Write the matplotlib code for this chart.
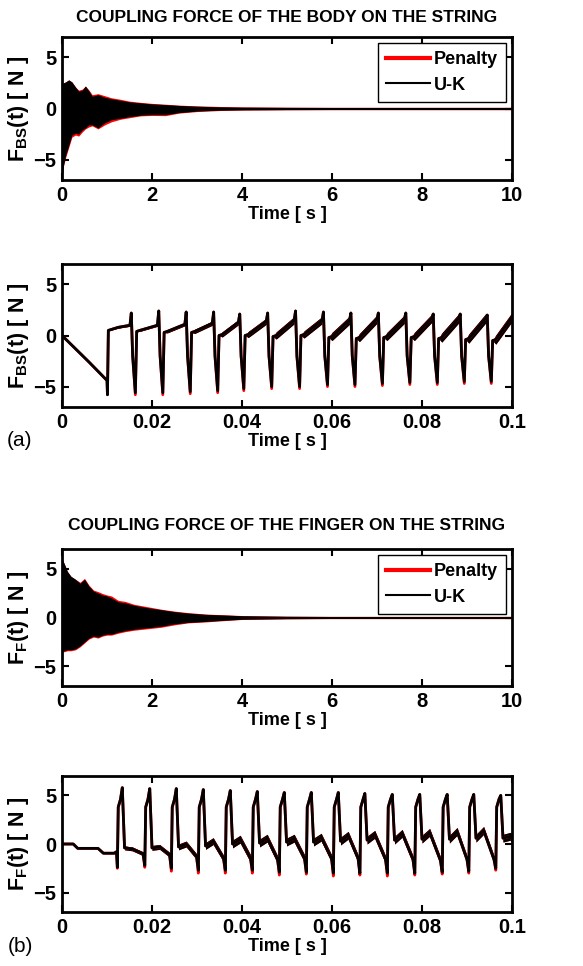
import numpy as np
import matplotlib.pyplot as plt
from matplotlib.lines import Line2D

plt.rcParams['font.family'] = ['Liberation Sans', 'DejaVu Sans']
plt.rcParams['font.weight'] = 'bold'
plt.rcParams['mathtext.fontset'] = 'custom'
plt.rcParams['mathtext.rm'] = 'Liberation Sans:bold'
plt.rcParams['mathtext.bf'] = 'Liberation Sans:bold'
plt.rcParams['mathtext.it'] = 'Liberation Sans:bold'

# ---- body on string, 0..10 s (envelope of the fast oscillation) ----
body_t = [0, 0.03, 0.08, 0.15, 0.22, 0.3, 0.37, 0.45, 0.52, 0.6, 0.67, 0.8, 0.95, 1.1,
          1.3, 1.5, 1.75, 2.0, 2.3, 2.6, 3.0, 3.5, 4.0, 5, 6, 7, 8, 10]
body_uk_up = [2.4, 2.5, 2.6, 2.8, 2.6, 2.1, 1.7, 1.8, 2.2, 1.7, 1.2, 1.35, 1.1, 0.95,
              0.8, 0.65, 0.55, 0.45, 0.38, 0.3, 0.22, 0.16, 0.13, 0.11, 0.1, 0.1, 0.1, 0.1]
body_uk_lo = [-6.9, -5.6, -4.6, -3.6, -2.6, -2.4, -2.5, -2.1, -1.9, -1.6, -1.6, -1.9, -1.4, -1.1,
              -0.95, -0.8, -0.65, -0.6, -0.6, -0.4, -0.25, -0.16, -0.13, -0.11, -0.1, -0.1, -0.1, -0.1]
body_pen_up = [2.4, 2.5, 2.6, 2.8, 2.6, 2.1, 1.8, 1.9, 2.2, 1.8, 1.35, 1.45, 1.25, 1.05,
               0.9, 0.72, 0.6, 0.5, 0.42, 0.33, 0.26, 0.2, 0.16, 0.13, 0.12, 0.12, 0.12, 0.12]
body_pen_lo = [-6.9, -5.7, -4.8, -3.8, -2.8, -2.6, -2.7, -2.3, -2.0, -1.8, -1.7, -2.0, -1.6, -1.3,
               -1.05, -0.9, -0.72, -0.68, -0.7, -0.45, -0.3, -0.2, -0.16, -0.13, -0.12, -0.12, -0.12, -0.12]

# ---- body on string, 0..0.1 s (per period read-offs) ----
body_tmin = [0.0163, 0.0224, 0.0285, 0.0346, 0.0404, 0.0466, 0.0528, 0.0590, 0.0651,
             0.0712, 0.0773, 0.0834, 0.0894, 0.0954]
body_min_uk = [-5.6, -5.6, -5.5, -5.4, -5.2, -5.0, -5.0, -4.8, -4.8, -4.7, -4.6, -4.6, -4.5, -4.5]
body_min_pen = [-5.8, -5.8, -5.7, -5.6, -5.4, -5.2, -5.2, -5.0, -5.0, -4.9, -4.8, -4.8, -4.7, -4.7]
body_peak = [2.2, 2.4, 2.3, 2.3, 2.1, 2.2, 2.4, 2.3, 2.2, 2.2, 2.2, 2.1, 2.1, 2.0]
body_base = [0.4, 0.3, 0.3, 0.0, 0.0, -0.1, 0.0, -0.2, -0.3, -0.2, -0.2, -0.3, -0.4, -0.5]
body_rise = [1.0, 1.1, 1.2, 1.3, 1.4, 1.5, 1.5, 1.5, 1.6, 1.6, 1.7, 1.7, 1.7, 1.8]
body_fuzz = [0.1, 0.15, 0.2, 0.25, 0.3, 0.35, 0.35, 0.4, 0.4, 0.4, 0.4, 0.45, 0.45, 0.45]

# ---- finger on string, 0..10 s ----
fing_t = [0, 0.05, 0.12, 0.2, 0.3, 0.4, 0.5, 0.6, 0.7, 0.8, 0.9, 1.0, 1.1, 1.25, 1.4,
          1.6, 1.9, 2.2, 2.5, 2.8, 3.2, 3.6, 4.0, 5, 6, 8, 10]
fing_uk_up = [6.0, 5.5, 4.7, 4.2, 3.9, 3.5, 3.9, 3.2, 2.7, 2.5, 2.3, 2.2, 2.0, 1.6, 1.5,
              1.25, 1.0, 0.8, 0.6, 0.45, 0.32, 0.25, 0.18, 0.12, 0.1, 0.1, 0.1]
fing_uk_lo = [-3.4, -3.4, -3.3, -3.3, -3.2, -2.9, -2.5, -2.1, -1.9, -2.0, -1.8, -1.7, -1.7, -1.5, -1.35,
              -1.2, -1.05, -0.9, -0.65, -0.5, -0.4, -0.28, -0.18, -0.12, -0.1, -0.1, -0.1]
fing_pen_up = [6.0, 5.5, 4.7, 4.2, 3.9, 3.6, 4.0, 3.3, 2.8, 2.65, 2.45, 2.3, 2.2, 1.75, 1.65,
               1.35, 1.1, 0.85, 0.65, 0.5, 0.35, 0.28, 0.2, 0.14, 0.12, 0.12, 0.12]
fing_pen_lo = [-3.5, -3.5, -3.4, -3.4, -3.3, -3.0, -2.6, -2.2, -2.0, -2.1, -1.9, -1.8, -1.8, -1.6, -1.45,
               -1.3, -1.15, -1.0, -0.75, -0.55, -0.45, -0.32, -0.2, -0.14, -0.12, -0.12, -0.12]

# ---- finger on string, 0..0.1 s ----
fing_tpk = [0.0134, 0.0195, 0.0254, 0.0314, 0.0374, 0.0434, 0.0494, 0.0554, 0.0614,
            0.0673, 0.0734, 0.0795, 0.0856, 0.0915, 0.0975]
fing_peak = [5.8, 5.7, 5.7, 5.6, 5.5, 5.4, 5.3, 5.3, 5.3, 5.2, 5.1, 5.1, 5.1, 5.1, 5.0]
fing_dip_uk = [-2.4, -2.2, -2.5, -2.7, -2.7, -2.7, -2.9, -2.9, -3.0, -3.0, -3.0, -3.0, -2.9, -2.8, -2.5]
fing_dip_pen = [-2.5, -2.4, -2.8, -3.0, -3.0, -3.0, -3.2, -3.1, -3.3, -3.2, -3.3, -3.2, -3.1, -3.0, -2.7]
fing_after = [-0.4, -0.4, -0.3, -0.2, 0.0, 0.1, 0.2, 0.2, 0.3, 0.4, 0.4, 0.5, 0.5, 0.6, 0.6]
fing_bump = [-0.5, -0.3, 0.0, 0.3, 0.5, 0.6, 0.6, 0.7, 0.9, 1.0, 1.1, 1.2, 1.3, 1.4, 0.8]
fing_predip = [-1.0, -1.1, -1.3, -1.5, -1.5, -1.6, -1.5, -1.5, -1.5, -1.6, -1.6, -1.7, -1.6, -1.6]
fing_fuzz = [0.2, 0.25, 0.3, 0.35, 0.4, 0.4, 0.4, 0.4, 0.4, 0.4, 0.4, 0.4, 0.4, 0.4, 0.4]


def body_trace(vmin):
    t = [0.0, 0.006, 0.0100, 0.0101, 0.0103, 0.0125]
    v = [0.0, -2.6, -4.4, -5.8, 0.5, 0.8]
    f = [0.0, 0.0, 0.0, 0.0, 0.05, 0.08]
    prev, pf = 1.0, 0.1
    for k in range(len(body_tmin)):
        tm = body_tmin[k]
        t += [tm - 0.0012, tm - 0.0009, tm - 0.0006, tm, tm + 0.0003, tm + 0.0010]
        v += [prev, body_peak[k], -2.0, vmin[k], body_base[k], body_base[k] + 0.1]
        f += [pf, 0.0, 0.0, 0.0, 0.0, body_fuzz[k]]
        prev, pf = body_rise[k], body_fuzz[k]
    t.append(0.1)
    v.append(body_rise[-1])
    f.append(body_fuzz[-1])
    return np.array(t), np.array(v), np.array(f)


def finger_trace(dip):
    t = [0.0, 0.0025, 0.0035, 0.0080, 0.0092, 0.0116, 0.0121]
    v = [0.0, 0.0, -0.45, -0.45, -0.95, -0.95, -0.8]
    f = [0.0, 0.0, 0.0, 0.0, 0.0, 0.0, 0.05]
    for k in range(len(fing_tpk)):
        tp = fing_tpk[k]
        fz = fing_fuzz[k]
        t += [tp - 0.0011, tp - 0.0009, tp - 0.0004, tp, tp + 0.0005, tp + 0.0022]
        v += [dip[k], 3.8, 4.6, fing_peak[k], fing_after[k], fing_bump[k]]
        f += [0.0, 0.0, 0.2, 0.0, fz, fz]
        if k < len(fing_predip):
            t.append(fing_tpk[k + 1] - 0.0015)
            v.append(fing_predip[k])
            f.append(fz)
    t.append(0.1)
    v.append(0.4)
    f.append(fing_fuzz[-1])
    return np.array(t), np.array(v), np.array(f)


def draw_trace(ax, tp, vp, fp, tu, vu, fu):
    ax.fill_between(tp, vp - fp, vp + fp, color='red', lw=0)
    ax.plot(tp, vp, color='red', lw=2.0)
    ax.fill_between(tu, vu - fu, vu + fu, color='black', lw=0)
    ax.plot(tu, vu, color='black', lw=2.0)


fig = plt.figure(figsize=(5.83, 9.66), dpi=100)
W, H = 583.0, 966.0
boxes = [(37, 180), (264, 407), (549, 686), (776, 912)]
axes = []
for top, bot in boxes:
    ax = fig.add_axes([62 / W, 1 - bot / H, 450 / W, (bot - top) / H])
    axes.append(ax)


def style(ax, xmax, xticks, xticklabels, ylab):
    ax.set_xlim(0, xmax)
    ax.set_ylim(-7, 7)
    ax.set_xticks(xticks)
    ax.set_xticklabels(xticklabels)
    ax.set_yticks([-5, 0, 5])
    ax.tick_params(direction='in', top=True, right=True, length=5, width=1.5,
                   labelsize=14.5, pad=4)
    for s in ax.spines.values():
        s.set_linewidth(2)
    ax.set_xlabel('Time [ s ]', fontsize=13, fontweight='bold', labelpad=1)
    ax.set_ylabel(ylab, fontsize=15.5, labelpad=2)


def legend(ax):
    h = [Line2D([], [], color='red', lw=3), Line2D([], [], color='black', lw=1.5)]
    lg = ax.legend(h, ['Penalty', 'U-K'], loc='upper right', fancybox=False,
                   framealpha=1, edgecolor='black', fontsize=13, handlelength=2.4,
                   borderaxespad=0.35, handletextpad=0.2, labelspacing=0.45,
                   borderpad=0.45)
    lg.get_frame().set_linewidth(1)


long_ticks = [0, 2, 4, 6, 8, 10]
long_labels = ['0', '2', '4', '6', '8', '10']
short_ticks = [0, 0.02, 0.04, 0.06, 0.08, 0.1]
short_labels = ['0', '0.02', '0.04', '0.06', '0.08', '0.1']

ax = axes[0]
ax.fill_between(body_t, body_pen_lo, body_pen_up, color='red', lw=0)
ax.fill_between(body_t, body_uk_lo, body_uk_up, color='black', lw=0)
style(ax, 10, long_ticks, long_labels, r'$\mathrm{F_{BS}(t)\ [\ N\ ]}$')
legend(ax)
ax.set_title('COUPLING FORCE OF THE BODY ON THE STRING', fontsize=12.5,
             fontweight='bold', pad=11)

ax = axes[1]
tp, vp, fp = body_trace(body_min_pen)
tu, vu, fu = body_trace(body_min_uk)
draw_trace(ax, tp, vp, fp, tu, vu, fu)
style(ax, 0.1, short_ticks, short_labels, r'$\mathrm{F_{BS}(t)\ [\ N\ ]}$')

ax = axes[2]
ax.fill_between(fing_t, fing_pen_lo, fing_pen_up, color='red', lw=0)
ax.fill_between(fing_t, fing_uk_lo, fing_uk_up, color='black', lw=0)
style(ax, 10, long_ticks, long_labels, r'$\mathrm{F_{F}(t)\ [\ N\ ]}$')
legend(ax)
ax.set_title('COUPLING FORCE OF THE FINGER ON THE STRING', fontsize=12.5,
             fontweight='bold', pad=14)

ax = axes[3]
tp, vp, fp = finger_trace(fing_dip_pen)
tu, vu, fu = finger_trace(fing_dip_uk)
draw_trace(ax, tp, vp, fp, tu, vu, fu)
style(ax, 0.1, short_ticks, short_labels, r'$\mathrm{F_{F}(t)\ [\ N\ ]}$')

fig.text(20 / W, 1 - 440 / H, '(a)', fontsize=15, fontweight='normal',
         ha='center', va='center')
fig.text(20 / W, 1 - 946 / H, '(b)', fontsize=15, fontweight='normal',
         ha='center', va='center')

fig.savefig('out.png', dpi=100)
